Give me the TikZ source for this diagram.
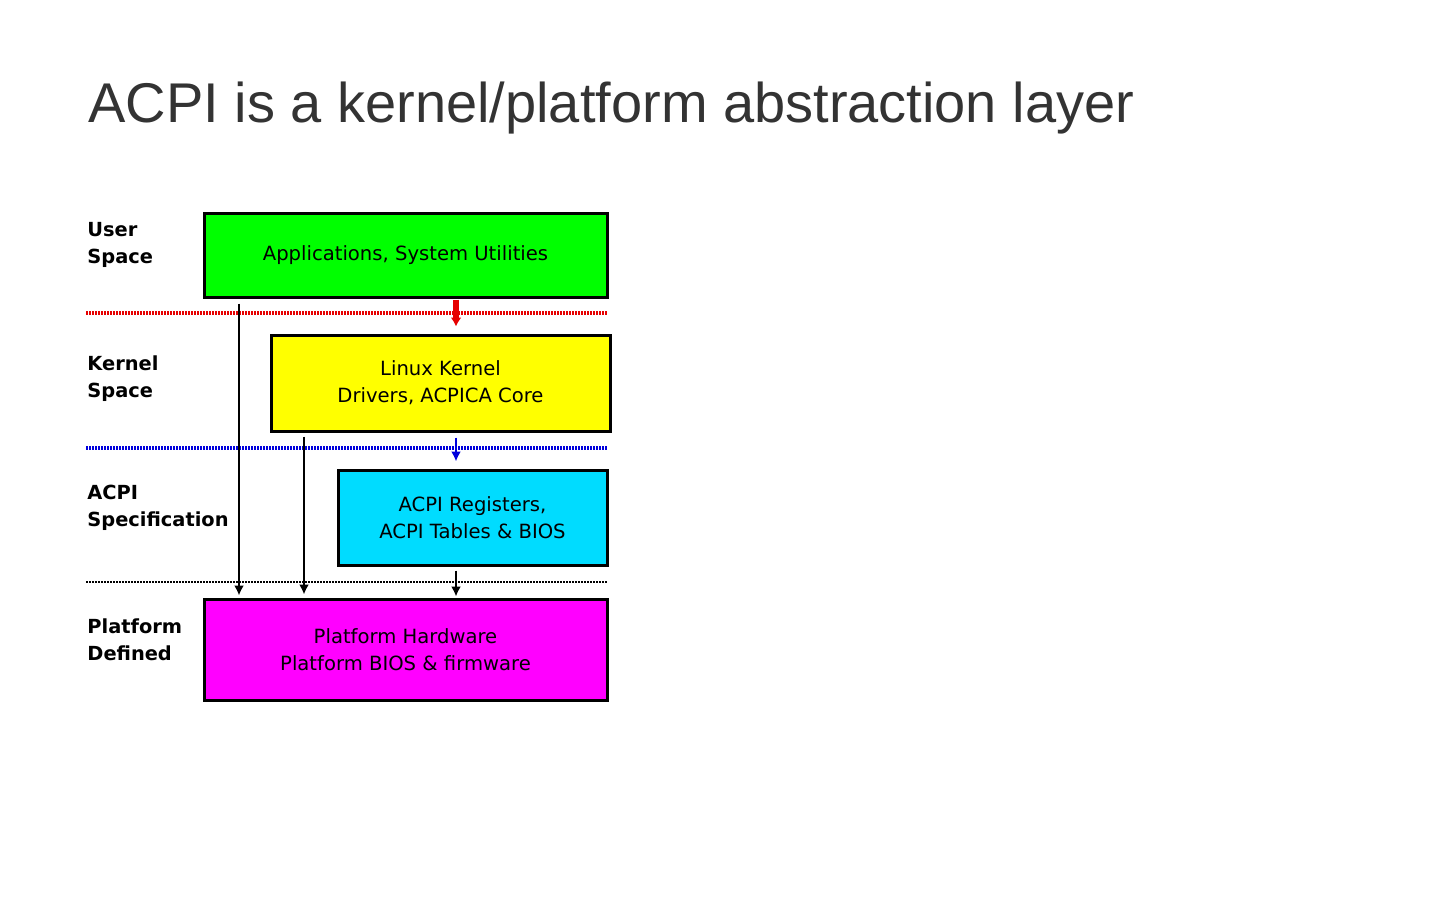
\documentclass[tikz,border=0pt]{standalone}
\usepackage{fontspec}
\usetikzlibrary{arrows.meta}
\setmainfont{DejaVu Sans}
\newfontfamily\titlefont{Liberation Sans}
\definecolor{titlegray}{HTML}{333333}
\definecolor{usergreen}{RGB}{0,255,0}
\definecolor{kernyellow}{RGB}{255,255,0}
\definecolor{acpicyan}{RGB}{0,220,255}
\definecolor{platmagenta}{RGB}{255,0,255}
\definecolor{callred}{RGB}{230,0,0}
\definecolor{callblue}{RGB}{0,0,220}
\tikzset{
	layer/.style={rectangle, draw, line width=1.5pt, align=center, font=\fontsize{9.8}{13.5}\selectfont, inner sep=0pt},
	side/.style={anchor=north west, align=left, font=\fontsize{9.7}{13.5}\selectfont\bfseries, inner sep=0pt},
	border/.style={line width=2pt, dash pattern=on 0.8pt off 0.7pt},
	call/.style={-{Latex[length=5pt,width=5pt]}, line width=1.4pt},
}
\begin{document}
\begin{tikzpicture}[x=0.5pt,y=-0.5pt]
				\useasboundingbox (0,0) rectangle (1440,900);
				\path
				(88,122) node[anchor=base west, inner sep=0pt, text=titlegray, font=\titlefont\fontsize{28}{34}\selectfont](title){ACPI is a kernel/platform abstraction layer}
				(405.5,255) node[layer, fill=usergreen, minimum width=201.5pt, minimum height=42pt](apps){Applications, System Utilities}
				(440.5,383) node[layer, fill=kernyellow, minimum width=169.5pt, minimum height=48pt](kern){Linux Kernel\\Drivers, ACPICA Core}
				(472.5,517.5) node[layer, fill=acpicyan, minimum width=134.5pt, minimum height=47.5pt](regs){ACPI Registers,\\ACPI Tables \& BIOS}
				(405.5,649.5) node[layer, fill=platmagenta, minimum width=201.5pt, minimum height=50.5pt](hw){Platform Hardware\\Platform BIOS \& firmware}
				(87,222) node[side](user){User\\Space}
				(87,355) node[side](kspace){Kernel\\Space}
				(87,485) node[side](spec){ACPI\\Specification}
				(87,618) node[side](plat){Platform\\Defined}
				;
				% layer borders
				\draw[border, callred] (86,313) coordinate(r0) -- (607,313) coordinate(r1);
				\draw[border, callblue] (86,448) coordinate(b0) -- (607,448) coordinate(b1);
				\draw[border, line width=1.3pt] (86,582) coordinate(k0) -- (607,582) coordinate(k1);
				% calls
				\draw[call, callred, line width=3pt, -{Latex[length=4.5pt,width=5.5pt]}, shorten <=0.5pt, shorten >=3.5pt] (apps.south -| 456,0) -- (kern.north -| 456,0);
				\draw[call, callblue, shorten <=2.5pt, shorten >=3.5pt] (kern.south -| 456,0) -- (regs.north -| 456,0);
				\draw[call, shorten <=2pt, shorten >=0.5pt] (regs.south -| 456,0) -- (hw.north -| 456,0);
				\draw[call, shorten <=2.5pt, shorten >=1pt] (apps.south -| 239,0) -- (hw.north -| 239,0);
				\draw[call, shorten <=2pt, shorten >=1.5pt] (kern.south -| 304,0) -- (hw.north -| 304,0);
			\end{tikzpicture}
\end{document}
